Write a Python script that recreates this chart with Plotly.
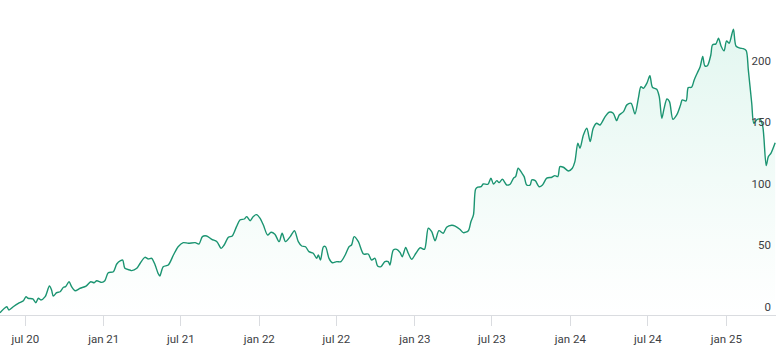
import pandas as pd
import plotly.graph_objects as go

# Days elapsed since the first observation (2020-05-02 15:00)
start_date = "2020-05-02 15:00"
day_offsets = [
    0, 12, 16, 21, 31, 43, 55, 61, 66, 77, 84, 90, 96, 106, 116, 121, 125, 133, 141, 149,
    154, 162, 168, 176, 188, 202, 213, 221, 227, 239, 246, 254, 266, 274, 283, 288, 293, 305, 309, 321,
    329, 340, 348, 356, 364, 371, 375, 383, 395, 407, 418, 430, 442, 458, 467, 475, 485, 497, 509, 519,
    526, 536, 545, 555, 563, 573, 579, 587, 594, 602, 610, 618, 628, 636, 645, 655, 662, 670, 681, 691,
    700, 708, 717, 725, 735, 743, 747, 752, 759, 764, 772, 780, 790, 800, 810, 819, 825, 831, 841, 853,
    864, 872, 880, 886, 894, 903, 911, 915, 923, 931, 939, 944, 952, 958, 966, 976, 986, 996, 1005, 1013,
    1021, 1030, 1040, 1048, 1060, 1068, 1079, 1087, 1099, 1105, 1111, 1116, 1121, 1129, 1134, 1145, 1152, 1158, 1166, 1171,
    1179, 1189, 1197, 1205, 1210, 1216, 1224, 1230, 1236, 1244, 1248, 1256, 1265, 1273, 1283, 1295, 1302, 1309, 1314, 1322,
    1334, 1343, 1349, 1356, 1361, 1369, 1377, 1385, 1392, 1400, 1408, 1420, 1429, 1439, 1447, 1453, 1463, 1471, 1481, 1490,
    1498, 1504, 1510, 1518, 1525, 1531, 1541, 1547, 1553, 1558, 1565, 1571, 1579, 1588, 1597, 1601, 1610, 1615, 1623, 1629,
    1636, 1643, 1649, 1654, 1660, 1668, 1672, 1680, 1686, 1692, 1699, 1705, 1711, 1721, 1727, 1737, 1744, 1751, 1756, 1764,
    1769, 1777, 1784, 1790, 1798, 1803, 1809, 1819,
]
values = [
    1.9, 5.9, 6.7, 4.1, 6.7, 9.5, 11.6, 14.9, 13.6, 13.0, 10.0, 13.6, 12.2, 14.9, 23.5, 20.3, 15.4, 18.1, 18.9, 22.5,
    23.0, 27.0, 23.0, 19.7, 21.7, 23.5, 27.0, 26.2, 27.8, 26.5, 27.8, 34.3, 35.1, 41.4, 44.1, 44.6, 37.9, 36.5, 36.0, 37.9,
    42.0, 46.8, 45.5, 46.0, 40.6, 33.8, 31.7, 39.2, 40.6, 48.7, 55.4, 58.7, 58.2, 58.7, 57.6, 63.6, 64.1, 61.4, 59.5, 54.1,
    56.8, 63.1, 64.1, 71.7, 77.1, 77.9, 79.8, 76.5, 79.8, 81.4, 78.6, 73.0, 64.9, 67.1, 65.5, 59.5, 66.3, 59.5, 63.6, 68.4,
    59.5, 56.0, 55.4, 51.4, 50.1, 46.0, 48.7, 44.6, 55.4, 55.4, 46.0, 42.4, 43.3, 43.3, 48.7, 55.4, 56.8, 63.6, 59.5, 49.5,
    49.5, 44.6, 46.0, 39.8, 39.2, 43.3, 43.3, 40.6, 52.8, 53.3, 50.6, 47.3, 54.9, 50.1, 45.2, 50.1, 54.6, 53.3, 70.4, 67.6,
    60.3, 68.4, 66.3, 71.2, 72.8, 72.2, 69.6, 66.8, 68.4, 75.7, 81.2, 102.0, 103.7, 104.1, 106.3, 106.1, 111.0, 106.3, 109.0, 107.4,
    110.1, 105.5, 106.1, 111.0, 112.3, 119.1, 115.5, 112.3, 105.5, 105.5, 109.6, 109.0, 104.1, 105.5, 111.0, 111.8, 113.1, 112.3, 120.4, 119.9,
    116.9, 119.1, 124.4, 139.4, 135.3, 146.1, 151.5, 140.7, 151.5, 155.6, 154.2, 161.0, 164.5, 163.7, 157.7, 162.3, 165.0, 170.5, 171.8, 163.1,
    175.9, 185.3, 184.0, 188.1, 194.2, 184.8, 183.2, 177.2, 159.7, 167.0, 175.3, 173.1, 158.8, 162.3, 170.5, 174.5, 173.7, 184.5, 184.8, 190.7,
    196.2, 201.5, 209.7, 202.1, 202.3, 211.0, 219.2, 220.0, 224.6, 218.3, 214.3, 222.4, 220.5, 231.9, 218.3, 216.5, 216.1, 214.5, 198.9, 171.8,
    155.6, 158.8, 158.8, 152.8, 121.2, 128.5, 131.2, 139.8,
]

tick_dates = ["2020-07-01", "2021-01-01", "2021-07-01", "2022-01-01", "2022-07-01",
              "2023-01-01", "2023-07-01", "2024-01-01", "2024-07-01", "2025-01-01"]
tick_labels = ["jul 20", "jan 21", "jul 21", "jan 22", "jul 22",
               "jan 23", "jul 23", "jan 24", "jul 24", "jan 25"]
y_ticks = [0, 50, 100, 150, 200]

dates = pd.Timestamp(start_date) + pd.to_timedelta(day_offsets, unit="D")

fig = go.Figure()
fig.add_trace(go.Scatter(
    x=dates, y=values, mode="lines",
    line=dict(color="#1b9471", width=1.4, shape="spline", smoothing=0.8),
    fill="tozeroy",
    fillgradient=dict(type="vertical", start=0, stop=232,
                      colorscale=[[0, "rgba(0,180,120,0.0)"], [1, "rgba(0,180,120,0.11)"]]),
    hoverinfo="skip",
))

font = dict(family="Roboto, Arial, sans-serif", size=11.5, color="#3c4043")
fig.update_layout(
    width=776, height=351,
    margin=dict(l=0, r=0, t=0, b=36),
    paper_bgcolor="white", plot_bgcolor="white",
    showlegend=False,
    font=font,
    xaxis=dict(
        range=["2020-05-02 15:00", "2025-04-27 14:00"],
        tickvals=tick_dates, ticktext=tick_labels,
        showgrid=False, zeroline=False,
        showline=True, linecolor="#dadce0", linewidth=1,
        ticks="outside", ticklen=10, tickcolor="#dadce0", tickwidth=1,
        ticklabelstandoff=3,
        tickfont=font,
    ),
    yaxis=dict(
        range=[0, 255.6], side="right",
        tickvals=y_ticks,
        ticklabelposition="inside top",
        ticklabelstandoff=2,
        showgrid=False, zeroline=False, showline=False, ticks="",
        tickfont=font,
    ),
)

fig.write_html("out.html")
